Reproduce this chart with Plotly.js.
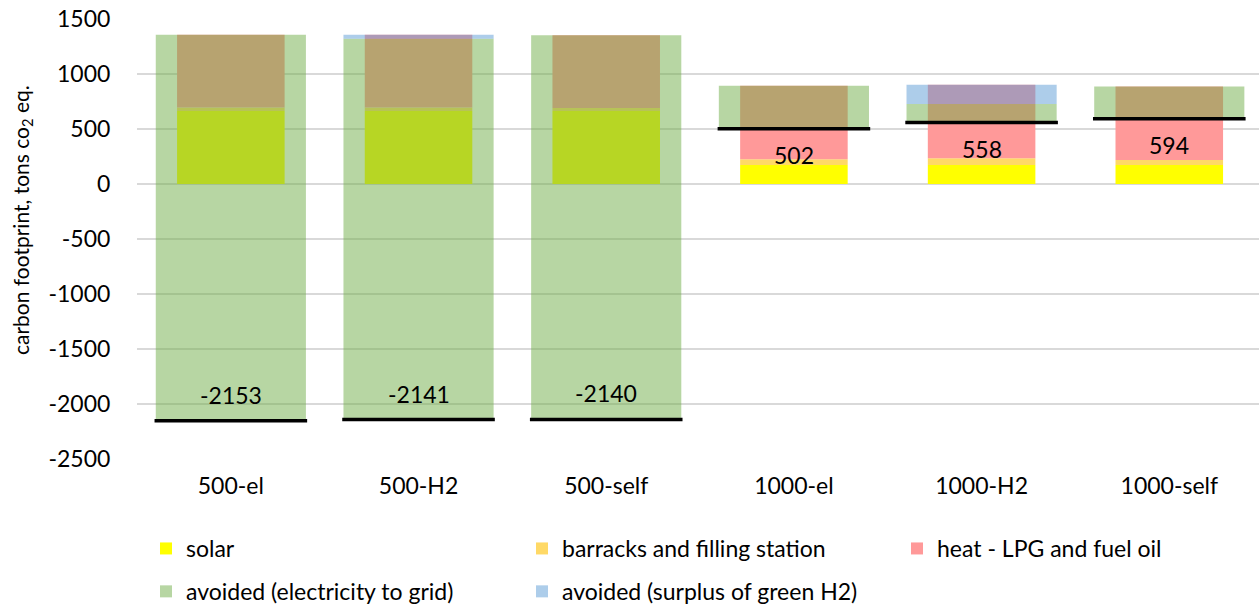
<!DOCTYPE html>
<html>
<head>
<meta charset="utf-8">
<script src="https://cdn.plot.ly/plotly-3.0.1.min.js"></script>
<style>html,body{margin:0;padding:0;background:#fff;}#chart{width:1259px;height:606px;}</style>
</head>
<body>
<div id="chart"></div>
<script>
// ---- data (tons CO2 eq.) ----
var categories = ['500-el', '500-H2', '500-self', '1000-el', '1000-H2', '1000-self'];
var solar = [663, 663, 663, 172, 172, 172];
var barracks = [33, 33, 28, 54, 63, 47];
var heat = [661, 661, 661, 668, 668, 668];
var avoidedGrid = [3510, 3461, 3492, 392, 169, 293];
var avoidedH2 = [0, 37, 0, 0, 176, 0];
var seriesNames = ['solar', 'barracks and filling station', 'heat - LPG and fuel oil',
                   'avoided (electricity to grid)', 'avoided (surplus of green H2)'];
var yTickVals = [-2500, -2000, -1500, -1000, -500, 0, 500, 1000, 1500];
var yTickText = ['-2500', '-2000', '-1500', '-1000', '-500', '0', '500', '1000', '1500'];
var yTitle = 'carbon footprint, tons co<sub>2</sub> eq.';

// ---- derived ----
var emissions = categories.map(function (c, i) { return solar[i] + barracks[i] + heat[i]; });
var net = categories.map(function (c, i) { return emissions[i] - avoidedGrid[i] - avoidedH2[i]; });
var baseBarracks = solar.slice();
var baseHeat = categories.map(function (c, i) { return solar[i] + barracks[i]; });
var baseH2 = categories.map(function (c, i) { return emissions[i] - avoidedH2[i]; });

var FONT = 'Lato, "Open Sans", sans-serif';
var narrowW = 0.573, wideW = 0.8;

function bar(name, y, base, color, width, legend) {
  return {
    type: 'bar', name: name, x: categories, y: y, base: base, width: width,
    marker: { color: color, line: { width: 0 } },
    legend: legend, legendgroup: name, hoverinfo: 'skip'
  };
}

var traces = [
  bar(seriesNames[0], solar, 0, '#FFFF00', narrowW, 'legend'),
  bar(seriesNames[1], barracks, baseBarracks, '#FFD966', narrowW, 'legend2'),
  bar(seriesNames[2], heat, baseHeat, '#FF9999', narrowW, 'legend3'),
  bar(seriesNames[3], avoidedGrid, net, 'rgba(112,173,71,0.5)', wideW, 'legend'),
  bar(seriesNames[4], avoidedH2, baseH2, 'rgba(91,155,213,0.5)', wideW, 'legend2'),
  {
    type: 'scatter', mode: 'markers', x: categories, y: net, showlegend: false, hoverinfo: 'skip',
    // line-ew length is 1.4 x size -> ~153 px
    marker: { symbol: 'line-ew', size: 109, color: '#000', line: { width: 3.5, color: '#000' } }
  }
];

var annotations = categories.map(function (c, i) {
  return {
    x: c, y: net[i], xref: 'x', yref: 'y', text: String(Math.round(net[i])),
    showarrow: false, yanchor: 'middle', xanchor: 'center',
    yshift: net[i] >= 0 ? -26 : 26,
    font: { family: FONT, size: 23, color: '#000' }
  };
});
// y-axis title (placed as a rotated annotation left of the tick labels)
annotations.push({
  text: yTitle, xref: 'paper', yref: 'paper', x: 0, y: 0.543, xshift: -115,
  xanchor: 'center', yanchor: 'middle', textangle: -90, showarrow: false,
  font: { family: FONT, size: 21, color: '#000' }
});

function legendAt(xpx, ypx) {
  return {
    orientation: 'v', xref: 'container', yref: 'container',
    x: xpx / 1259, y: 1 - ypx / 606, xanchor: 'left', yanchor: 'top',
    bgcolor: 'rgba(0,0,0,0)', borderwidth: 0, tracegroupgap: 10,
    font: { family: FONT, size: 23, color: '#000' }
  };
}

var layout = {
  width: 1259, height: 606,
  margin: { l: 137, r: 0, t: 19, b: 147, pad: 0, autoexpand: false },
  paper_bgcolor: '#fff', plot_bgcolor: '#fff',
  barmode: 'overlay',
  showlegend: true,
  font: { family: FONT, color: '#000' },
  xaxis: {
    type: 'category', range: [-0.5, 5.478], showgrid: false, zeroline: false, showline: false,
    ticks: 'outside', ticklen: 6, tickcolor: 'rgba(0,0,0,0)',
    tickfont: { family: FONT, size: 23, color: '#000' }
  },
  yaxis: {
    range: [-2500, 1500], tickmode: 'array', tickvals: yTickVals, ticktext: yTickText,
    showgrid: true, gridcolor: '#D9D9D9', gridwidth: 1.3,
    zeroline: false, showline: false,
    ticks: 'outside', ticklen: 21, tickcolor: 'rgba(0,0,0,0)',
    tickfont: { family: FONT, size: 23, color: '#000' }
  },
  legend: legendAt(146, 527),
  legend2: legendAt(522, 527),
  legend3: legendAt(897, 527),
  annotations: annotations
};

Plotly.newPlot('chart', traces, layout, { displayModeBar: false, staticPlot: true });
</script>
</body>
</html>
